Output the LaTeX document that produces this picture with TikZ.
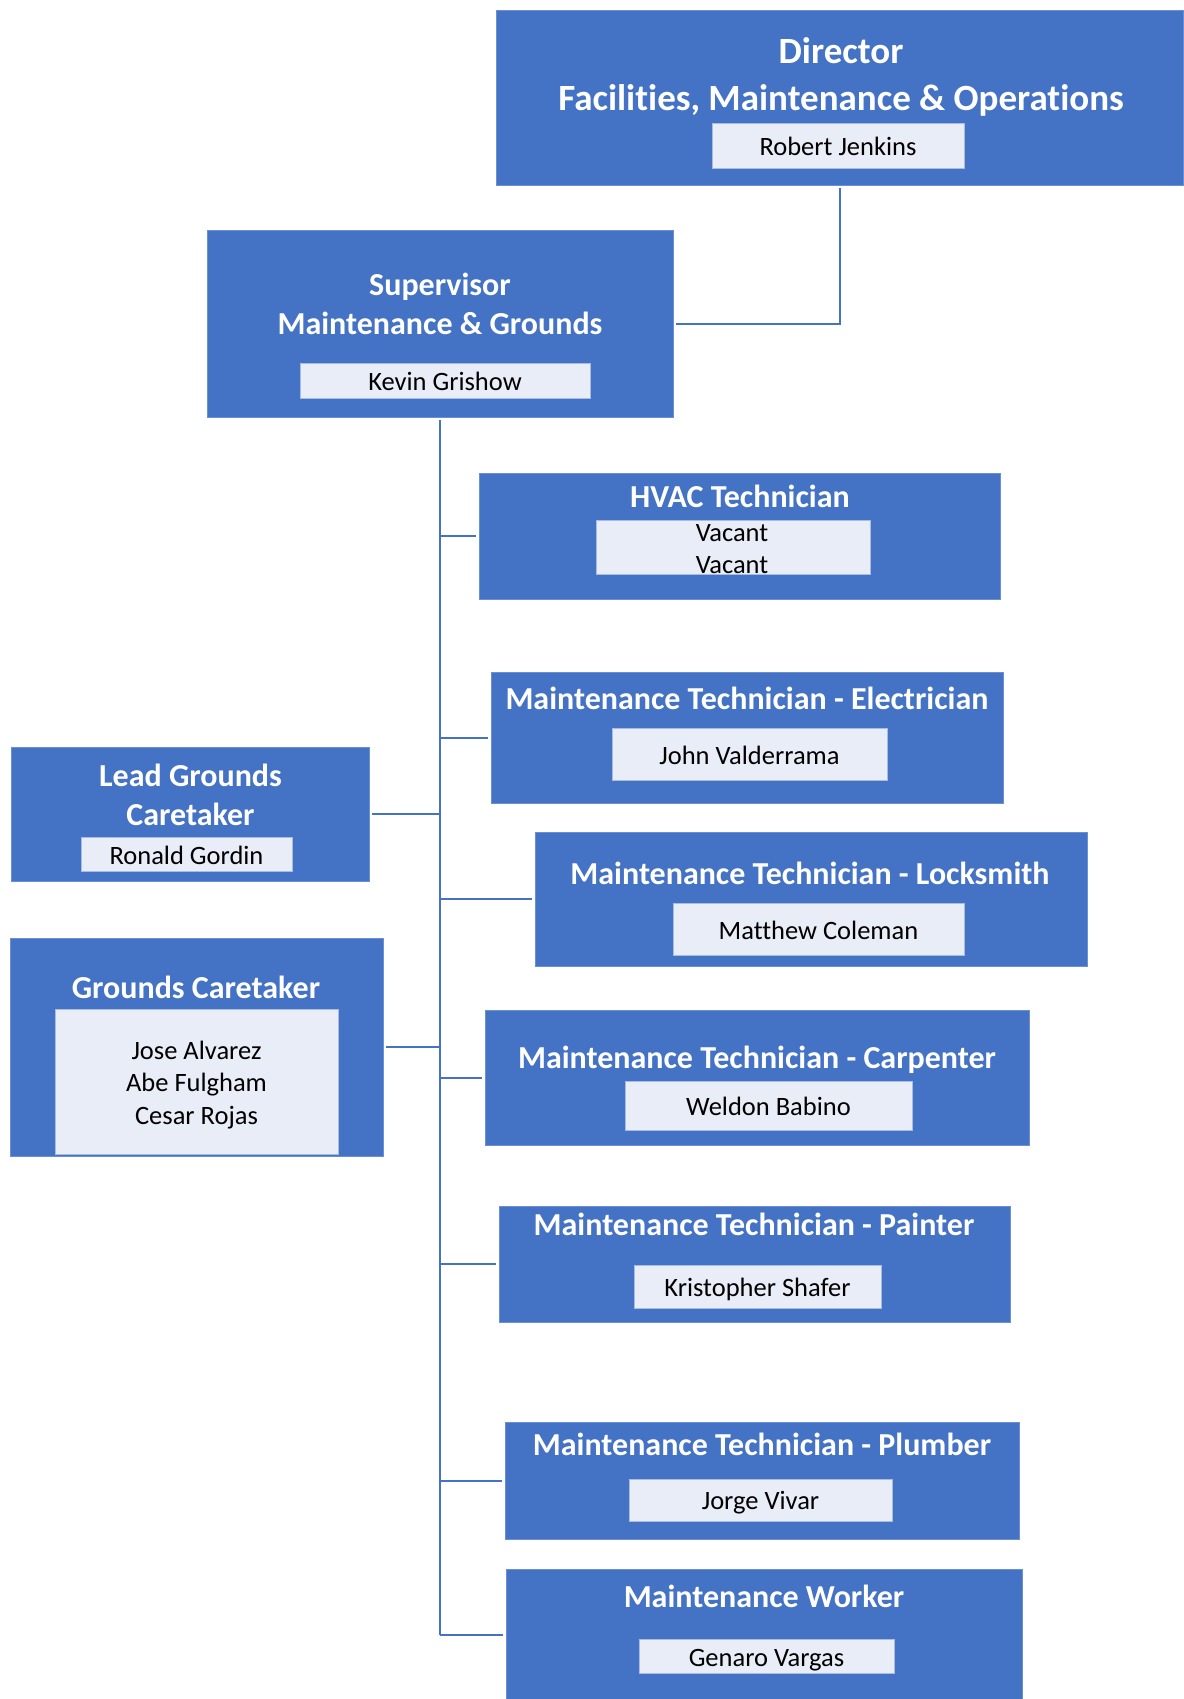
\documentclass[tikz,border=0pt]{standalone}
\usepackage{fontspec}
\setmainfont{Carlito}[Ligatures=NoCommon]
\definecolor{boxblue}{HTML}{4472C4}
\definecolor{namefill}{HTML}{E9EDF7}
\definecolor{nameline}{HTML}{A9BDE3}
\definecolor{edgeblue}{HTML}{6A8FD3}
\begin{document}
\begin{tikzpicture}[x=1pt,y=-1pt,
  rolebox/.style={fill=boxblue,draw=edgeblue,line width=0.8pt,inner sep=0pt},
  namebox/.style={fill=namefill,draw=nameline,line width=0.8pt,inner sep=0pt},
  ttl/.style={text=white,font=\bfseries\fontsize{32}{32}\selectfont,inner sep=0pt,anchor=center,yshift=-5pt},
  bigttl/.style={text=white,font=\bfseries\fontsize{37}{37}\selectfont,inner sep=0pt,anchor=center,yshift=-5.5pt},
  nm/.style={text=black,font=\fontsize{26.5}{26.5}\selectfont,inner sep=0pt,anchor=center,yshift=-4.5pt},
  link/.style={draw=boxblue,line width=2pt,shorten <=3pt,shorten >=3pt}]
\useasboundingbox (0,0) rectangle (1183,1699);
% Director
\node[rolebox,minimum width=687pt,minimum height=175pt] (dir) at (839.5,97.5) {};
\node[bigttl] (dirt1) at (841,51) {Director\strut};
\node[bigttl] (dirt2) at (841,97.5) {Facilities, Maintenance \& Operations\strut};
\node[namebox,minimum width=252pt,minimum height=45pt] (dirn) at (838,145.5) {};
\node[nm] (dirnt) at (838,146) {Robert Jenkins\strut};
% Supervisor
\node[rolebox,minimum width=466pt,minimum height=187pt] (sup) at (440,323.5) {};
\node[ttl] (supt1) at (440,284) {Supervisor\strut};
\node[ttl] (supt2) at (440,323) {Maintenance \& Grounds\strut};
\node[namebox,minimum width=290pt,minimum height=35pt] (supn) at (445,380.5) {};
\node[nm] (supnt) at (445,381) {Kevin Grishow\strut};
% HVAC
\node[rolebox,minimum width=521pt,minimum height=126pt] (hvac) at (739.5,536) {};
\node[ttl] (hvact) at (740,496) {HVAC Technician\strut};
\node[namebox,minimum width=274pt,minimum height=54pt] (hvacn) at (733,547) {};
\node[nm] (hvacn1) at (732,532) {Vacant\strut};
\node[nm] (hvacn2) at (732,564) {Vacant\strut};
% Electrician
\node[rolebox,minimum width=512pt,minimum height=131pt] (elec) at (747,737.5) {};
\node[ttl] (elect) at (747,698) {Maintenance Technician - Electrician\strut};
\node[namebox,minimum width=275pt,minimum height=52pt] (elecn) at (749.5,754) {};
\node[nm] (elecnt) at (749.5,755) {John Valderrama\strut};
% Lead grounds
\node[rolebox,minimum width=358pt,minimum height=134pt] (lead) at (190,814) {};
\node[ttl] (leadt1) at (190.5,775) {Lead Grounds\strut};
\node[ttl] (leadt2) at (190.5,814) {Caretaker\strut};
\node[namebox,minimum width=211pt,minimum height=34pt] (leadn) at (186.5,854) {};
\node[nm] (leadnt) at (186.5,855) {Ronald Gordin\strut};
% Locksmith
\node[rolebox,minimum width=552pt,minimum height=134pt] (lock) at (811,899) {};
\node[ttl] (lockt) at (810,873) {Maintenance Technician - Locksmith\strut};
\node[namebox,minimum width=291pt,minimum height=52pt] (lockn) at (818.5,929) {};
\node[nm] (locknt) at (818.5,929.5) {Matthew Coleman\strut};
% Grounds caretaker
\node[rolebox,minimum width=373pt,minimum height=218pt] (grnd) at (196.5,1047) {};
\node[ttl] (grndt) at (196,987) {Grounds Caretaker\strut};
\node[namebox,minimum width=283pt,minimum height=145pt] (grndn) at (196.5,1081.5) {};
\node[nm] (grndn1) at (196.5,1050) {Jose Alvarez\strut};
\node[nm] (grndn2) at (196.5,1082) {Abe Fulgham\strut};
\node[nm] (grndn3) at (196.5,1115) {Cesar Rojas\strut};
% Carpenter
\node[rolebox,minimum width=544pt,minimum height=135pt] (carp) at (757,1077.5) {};
\node[ttl] (carpt) at (757,1057) {Maintenance Technician - Carpenter\strut};
\node[namebox,minimum width=287pt,minimum height=49pt] (carpn) at (768.5,1105.5) {};
\node[nm] (carpnt) at (768.5,1106) {Weldon Babino\strut};
% Painter
\node[rolebox,minimum width=511pt,minimum height=116pt] (paint) at (754.5,1264) {};
\node[ttl] (paintt) at (754,1224) {Maintenance Technician - Painter\strut};
\node[namebox,minimum width=247pt,minimum height=43pt] (paintn) at (757.5,1286.5) {};
\node[nm] (paintnt) at (757.5,1287) {Kristopher Shafer\strut};
% Plumber
\node[rolebox,minimum width=514pt,minimum height=117pt] (plumb) at (762,1480.5) {};
\node[ttl] (plumbt) at (762,1444) {Maintenance Technician - Plumber\strut};
\node[namebox,minimum width=263pt,minimum height=42pt] (plumbn) at (760.5,1500) {};
\node[nm] (plumbnt) at (760.5,1500) {Jorge Vivar\strut};
% Worker
\node[rolebox,minimum width=516pt,minimum height=132pt] (work) at (764,1635) {};
\node[ttl] (workt) at (764,1596) {Maintenance Worker\strut};
\node[namebox,minimum width=255pt,minimum height=34pt] (workn) at (766.5,1656) {};
\node[nm] (worknt) at (766.5,1657) {Genaro Vargas\strut};
% connectors
\draw[link] (dir.south) |- (sup.east);
\draw[link,shorten >=0pt] (sup.south) -- (sup.south |- work.west);
\foreach \b in {hvac,elec,lock,carp,paint,plumb,work}
  \draw[link,shorten <=0pt] (sup.south |- \b.west) -- (\b.west);
\foreach \b in {lead,grnd}
  \draw[link,shorten <=0pt] (sup.south |- \b.east) -- (\b.east);
\end{tikzpicture}
\end{document}
